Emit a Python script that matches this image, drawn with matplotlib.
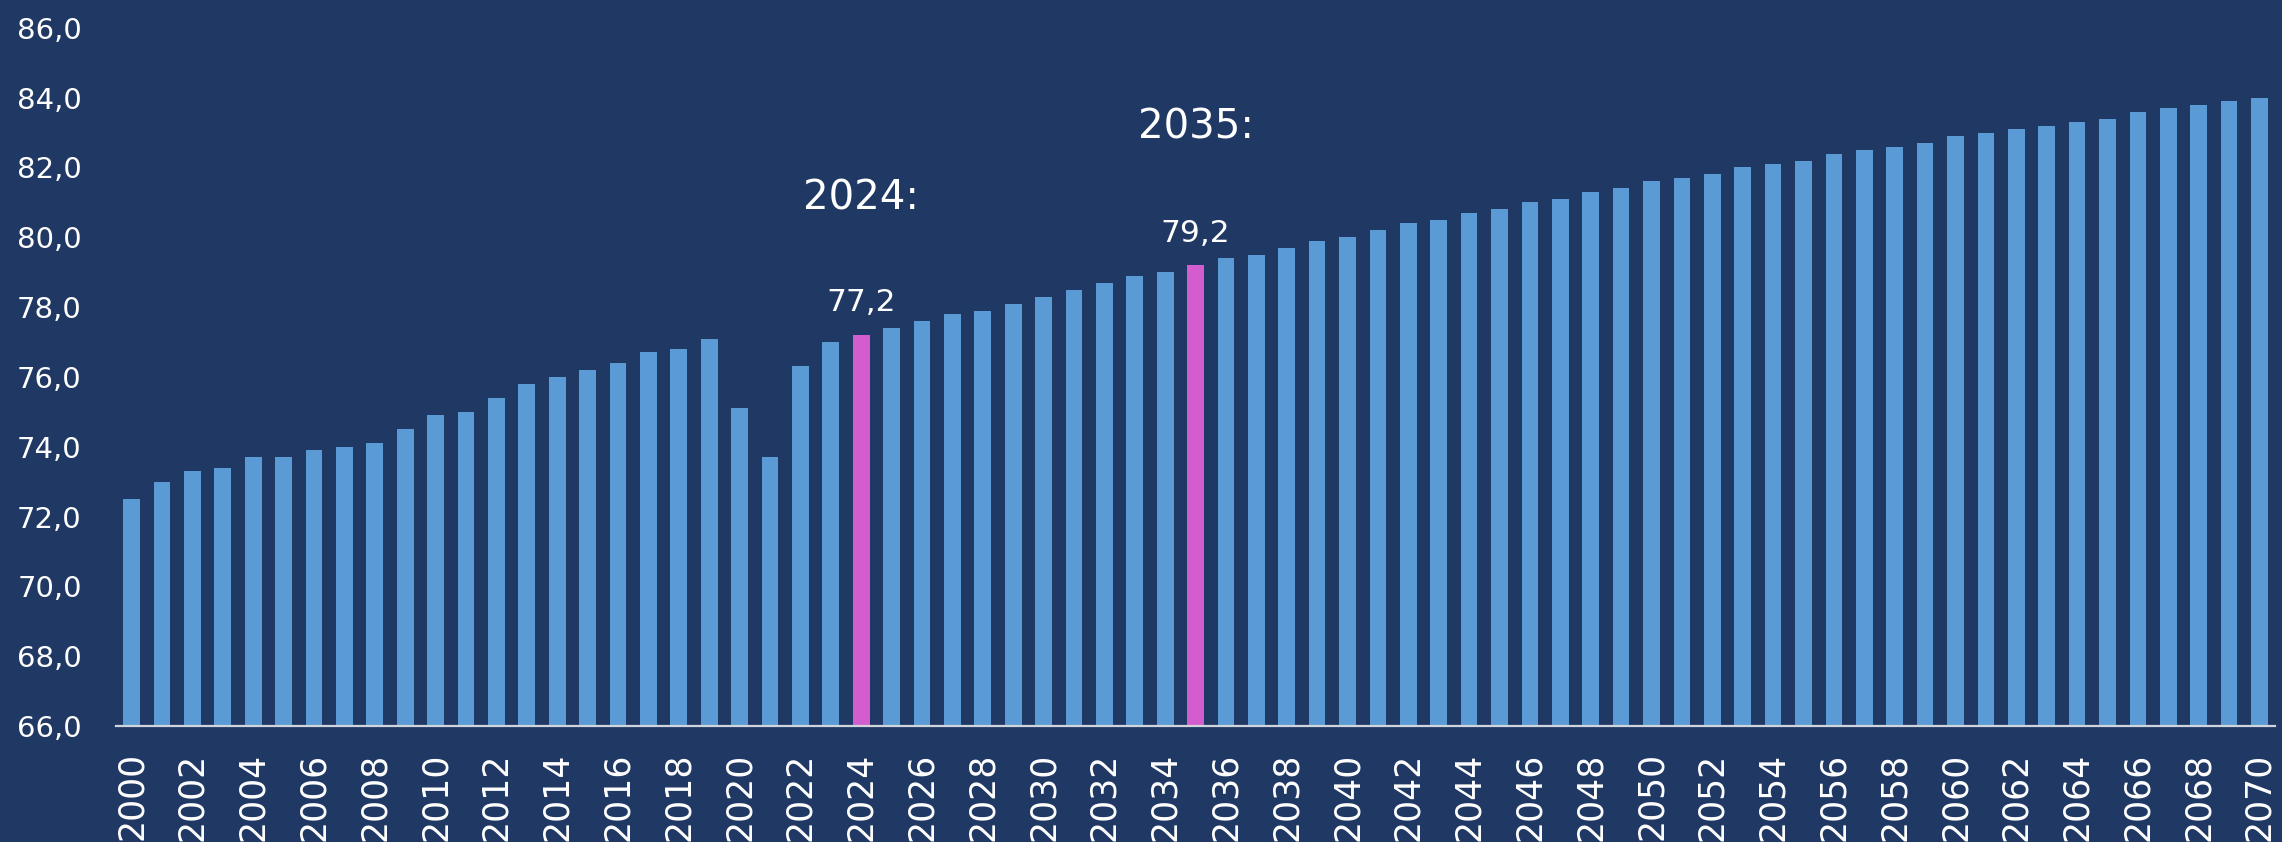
import numpy as np
import matplotlib.pyplot as plt

# data
years = list(range(2000, 2071))
values = [72.5, 73.0, 73.3, 73.4, 73.7, 73.7, 73.9, 74.0, 74.1, 74.5,
          74.9, 75.0, 75.4, 75.8, 76.0, 76.2, 76.4, 76.7, 76.8, 77.1,
          75.1, 73.7, 76.3, 77.0, 77.2, 77.4, 77.6, 77.8, 77.9, 78.1,
          78.3, 78.5, 78.7, 78.9, 79.0, 79.2, 79.4, 79.5, 79.7, 79.9,
          80.0, 80.2, 80.4, 80.5, 80.7, 80.8, 81.0, 81.1, 81.3, 81.4,
          81.6, 81.7, 81.8, 82.0, 82.1, 82.2, 82.4, 82.5, 82.6, 82.7,
          82.9, 83.0, 83.1, 83.2, 83.3, 83.4, 83.6, 83.7, 83.8, 83.9,
          84.0]
highlight_years = [2024, 2035]
header_labels = ["2024:", "2035:"]
header_y = [81.1, 83.15]
yticks = [66, 68, 70, 72, 74, 76, 78, 80, 82, 84, 86]

bg = "#203864"
blue = "#5B9BD5"
pink = "#D35DCF"

plt.rcParams['font.family'] = ['DejaVu Sans']

fig = plt.figure(figsize=(22.82, 8.42), dpi=100, facecolor=bg)
ax = fig.add_axes([0.051, 0.1378, 0.9458, 0.8291])
ax.set_facecolor(bg)

x = np.arange(len(years))
colors = [pink if y in highlight_years else blue for y in years]
ax.bar(x, values, width=0.55, color=colors, zorder=2)

ax.set_xlim(-0.5, len(years) - 0.5)
ax.set_ylim(66, 86)
ax.set_yticks(yticks)
ax.set_yticklabels([("%.1f" % v).replace(".", ",") for v in yticks])
ax.set_xticks(x[::2])
ax.set_xticklabels([str(y) for y in years[::2]], rotation=90, va='top')

ax.tick_params(axis='y', length=0, pad=25, labelsize=21, labelcolor='white')
ax.tick_params(axis='x', length=0, pad=19, labelsize=25, labelcolor='white')

for s in ['top', 'right', 'left']:
    ax.spines[s].set_visible(False)
ax.spines['bottom'].set_color('#D0D4DC')
ax.spines['bottom'].set_linewidth(1.6)
ax.spines['bottom'].set_zorder(3)

for yr, lab, hy in zip(highlight_years, header_labels, header_y):
    i = years.index(yr)
    v = values[i]
    ax.annotate(("%.1f" % v).replace(".", ","), (i, v), xytext=(0, 17),
                textcoords='offset points', ha='center', va='baseline',
                color='white', fontsize=22.5)
    ax.text(i, hy, lab, ha='center', va='center', color='white', fontsize=29)

fig.savefig("out.png", dpi=100, facecolor=bg)
